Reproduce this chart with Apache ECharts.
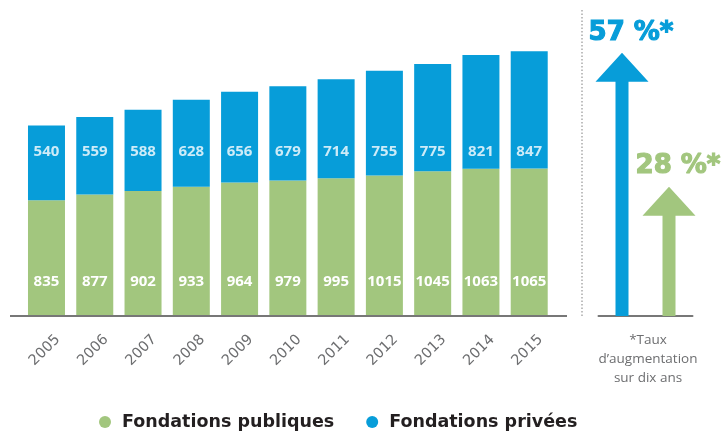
<!DOCTYPE html>
<html>
<head>
<meta charset="utf-8">
<script src="https://cdn.jsdelivr.net/npm/echarts@6/dist/echarts.min.js"></script>
<style>
html,body{margin:0;padding:0;background:#fff;}
#main{width:724px;height:433px;}
</style>
</head>
<body>
<div id="main"></div>
<script>
// ---- data ----
const years = ['2005','2006','2007','2008','2009','2010','2011','2012','2013','2014','2015'];
const publicVals = [835, 877, 902, 933, 964, 979, 995, 1015, 1045, 1063, 1065];
const privateVals = [540, 559, 588, 628, 656, 679, 714, 755, 775, 821, 847];
const growthNames = ['Fondations privées', 'Fondations publiques'];
const growthPct = [57, 28];
const footnoteLines = ['*Taux', 'd\u2019augmentation', 'sur dix ans'];

// ---- styles ----
const BLUE = '#079dd9';
const GREEN = '#a2c67e';
const GRAY = '#6d6e70';
const FONT = '"Open Sans", "DejaVu Sans", sans-serif';
const WIDE = '"DejaVu Sans", sans-serif';
const privateLabelLevel = 1184; // vertical level (value units) of the private-value label row

const chart = echarts.init(document.getElementById('main'), null, {renderer: 'canvas'});

const option = {
  animation: false,
  backgroundColor: '#fff',
  grid: [
    {left: 22.35, width: 531, top: 39, bottom: 117},
    {left: 598.5, width: 94, top: 39, bottom: 117}
  ],
  legend: {
    data: ['Fondations publiques', 'Fondations privées'],
    left: 94,
    top: 408,
    icon: 'circle',
    itemWidth: 24,
    itemHeight: 12,
    itemGap: 32,
    selectedMode: false,
    textStyle: {fontFamily: WIDE, fontWeight: 'bold', fontSize: 17.5, color: '#231f20'}
  },
  xAxis: [
    {
      gridIndex: 0, type: 'category', data: years,
      axisLine: {show: false}, axisTick: {show: false},
      axisLabel: {
        rotate: 45, margin: 10, color: GRAY, fontFamily: WIDE, fontSize: 14.5,
        verticalAlign: 'top', lineHeight: 14, padding: [9, 0, 0, 0], interval: 0
      }
    },
    {
      gridIndex: 1, type: 'category', data: growthNames,
      axisLine: {show: true, lineStyle: {color: '#777', width: 2}},
      axisTick: {show: false}, axisLabel: {show: false}
    }
  ],
  yAxis: [
    {gridIndex: 0, type: 'value', min: 0, max: 2000, show: false},
    {gridIndex: 1, type: 'value', min: 0, max: 60, show: false}
  ],
  series: [
    {
      name: 'Fondations publiques', type: 'bar', stack: 'total', barWidth: 37,
      xAxisIndex: 0, yAxisIndex: 0,
      itemStyle: {color: GREEN},
      data: publicVals,
      label: {
        show: true, position: 'insideBottom', distance: 26, color: '#fff',
        fontFamily: FONT, fontWeight: 'bold', fontSize: 15, lineHeight: 16
      }
    },
    {
      name: 'Fondations privées', type: 'bar', stack: 'total', barWidth: 37,
      xAxisIndex: 0, yAxisIndex: 0,
      itemStyle: {color: BLUE},
      data: privateVals,
      label: {show: false}
    },
    {
      name: 'privateLabels', type: 'scatter', xAxisIndex: 0, yAxisIndex: 0,
      symbolSize: 0, silent: true, z: 5,
      data: privateVals.map((v, i) => [i, privateLabelLevel, v]),
      label: {
        show: true, position: 'inside', color: '#fff',
        fontFamily: FONT, fontWeight: 'bold', fontSize: 15,
        formatter: p => String(p.value[2])
      }
    },
    {
      name: 'growth', type: 'custom', xAxisIndex: 1, yAxisIndex: 1, silent: true,
      data: growthPct.map((v, i) => [i, v]),
      renderItem: function (params, api) {
        const v = api.value(1);
        const base = api.coord([api.value(0), 0]);
        const tip = api.coord([api.value(0), v]);
        const cx = base[0], y0 = base[1], yt = tip[1];
        const sw = 6.5, hw = 26.5, hh = 29;
        const color = params.dataIndex === 0 ? BLUE : GREEN;
        return {
          type: 'group',
          children: [
            {
              type: 'polygon',
              shape: {points: [
                [cx - sw, y0], [cx - sw, yt + hh], [cx - hw, yt + hh], [cx, yt],
                [cx + hw, yt + hh], [cx + sw, yt + hh], [cx + sw, y0]
              ]},
              style: {fill: color}
            },
            {
              type: 'text',
              style: {
                text: v + ' %*', x: cx + 9, y: yt - 20, align: 'center', verticalAlign: 'middle',
                fontFamily: WIDE, fontWeight: 'bold', fontSize: 26, fill: color,
                stroke: color, lineWidth: 1.2
              }
            }
          ]
        };
      }
    }
  ],
  graphic: [
    {type: 'line', shape: {x1: 10, y1: 316, x2: 567, y2: 316}, style: {stroke: '#777', lineWidth: 2}, z: 10},
    {type: 'line', shape: {x1: 582, y1: 10, x2: 582, y2: 316}, style: {stroke: '#aaa', lineWidth: 1.5, lineDash: [1.5, 2]}},
    {
      type: 'text', x: 648, y: 331,
      style: {
        text: footnoteLines.join('\n'), align: 'center', verticalAlign: 'top',
        fontFamily: FONT, fontSize: 13.5, lineHeight: 19, fill: GRAY
      }
    }
  ]
};
chart.setOption(option);
</script>
</body>
</html>
